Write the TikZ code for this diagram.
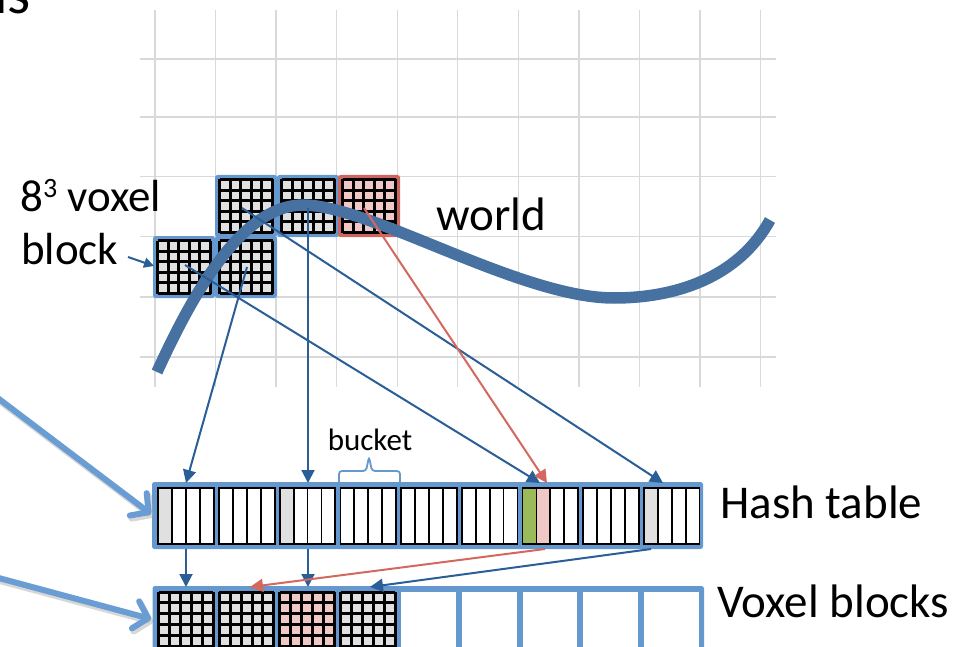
\documentclass[tikz,border=0pt]{standalone}
\usepackage{fontspec}
\setmainfont{Carlito}
\usetikzlibrary{arrows.meta}
\definecolor{gridgray}{RGB}{217,217,217}
\definecolor{frameblue}{RGB}{100,152,206}
\definecolor{framered}{RGB}{205,102,95}
\definecolor{curveblue}{RGB}{70,113,160}
\definecolor{arrowblue}{RGB}{42,94,150}
\definecolor{arrowred}{RGB}{212,104,94}
\definecolor{cellpink}{RGB}{240,200,198}
\definecolor{cellgray}{RGB}{224,224,224}
\definecolor{cellgreen}{RGB}{155,187,89}
\definecolor{bigblue}{RGB}{106,157,212}

% voxel grid: x, y, width, height, fill (5 columns, square cells)
\newcommand\vxgrid[5]{%
  \fill[#5] ({#1},{#2}) rectangle ({#1+#3},{#2+#4});
  \foreach \ii in {0,...,5} \draw[gridblack] ({#1+\ii*#3/5},{#2}) -- ({#1+\ii*#3/5},{#2+#4});
  \pgfmathtruncatemacro\nrows{floor(#4/(#3/5))}
  \foreach \jj in {0,...,\nrows} \draw[gridblack] ({#1},{#2+\jj*#3/5}) -- ({#1+#3},{#2+\jj*#3/5});
}
% world block: name, x, y, frame colour, cell colour
\newcommand\wblock[5]{%
  \fill[#4, rounded corners=2.5] ({#2},{#3}) rectangle ({#2+62},{#3+62});
  \vxgrid{#2+4.5}{#3+4.5}{53}{53}{#5}
  \coordinate (#1) at ({#2+31},{#3+31});
}
% hash cell: bucket, cell, fill
\newcommand\hcell[3]{%
  \draw[cellline, fill=#3] ({158.3+60.7*#1+#2*13.9},488) rectangle ++(13.9,56);
}

\begin{document}
\begin{tikzpicture}[x=1pt,y=-1pt,
  gridline/.style={gridgray, line width=1.3pt},
  gridblack/.style={black, line width=3pt},
  cellline/.style={black, line width=1.8pt},
  link/.style={arrowblue, line width=2pt, -{Triangle[length=13pt,width=13pt]}},
  redlink/.style={arrowred, line width=2pt, -{Triangle[length=13pt,width=13pt]}},
  smalllink/.style={arrowblue, line width=2pt, -{Triangle[length=10pt,width=10pt]}},
  bigarrow/.style={bigblue, line width=6pt, line cap=round, -{Straight Barb[length=13pt,width=28pt,round]}},
  bigshadow/.style={black!35, opacity=0.45, line width=6.5pt, line cap=round, -{Straight Barb[length=13pt,width=28pt,round]}},
  bigtext/.style={inner sep=0pt, font=\fontsize{47}{56}\selectfont},
]
\useasboundingbox (0,0) rectangle (963,647);
\clip (0,0) rectangle (963,647);

% title fragment
\node[anchor=base east, inner sep=0pt, font=\fontsize{59}{60}\selectfont] (title) at (31,14) {ns};

% background grid
\foreach \i in {0,...,10} \draw[gridline] ({155+60.55*\i},10) -- ({155+60.55*\i},387);
\foreach \yy in {59,117,176.5,236.5,297,357} \draw[gridline] (140,\yy) -- (776,\yy);

% world voxel blocks
\wblock{T1}{215}{175}{frameblue}{cellgray}
\wblock{T2}{277}{175}{frameblue}{cellgray}
\wblock{B1}{153}{236}{frameblue}{cellgray}
\wblock{B2}{215}{236}{frameblue}{cellgray}
\wblock{T3}{338}{175}{framered}{cellpink}

% surface curve
\draw[curveblue, line width=11.5pt] (157,372) .. controls (190,300) and (240,205) .. (303,205)
  .. controls (370,205) and (520,298) .. (614,298)
  .. controls (675,298) and (738,278) .. (770,220);

% labels
\node[anchor=base west, inner sep=0pt, font=\fontsize{45}{54}\selectfont] (lblvox) at (20,211.7)
  {8\raisebox{14.5pt}{\fontsize{28}{28}\selectfont 3} voxel};
\node[anchor=base west, inner sep=0pt, font=\fontsize{45}{54}\selectfont] (lblblock) at (21,264) {block};
\node[bigtext, anchor=base west] (lblworld) at (436,230) {world};
\node[bigtext, anchor=base west] (lblhash) at (720,518) {Hash table};
\node[bigtext, anchor=base west] (lblvb) at (717,617) {Voxel blocks};
\node[inner sep=0pt, anchor=base, font=\fontsize{31}{36}\selectfont] (lblbucket) at (370,450) {bucket};

% bucket brace
\draw[frameblue, line width=1.8pt, rounded corners=3] (339,483) |- (366,471) -- (369,457) -- (372,471) -| (400,483);

% hash table
\fill[frameblue, rounded corners=2.5] (152,482) rectangle (703,549);
\foreach \k in {0,...,8} {\foreach \c in {0,...,3} {\hcell{\k}{\c}{white}}}
\hcell{0}{0}{cellgray}
\hcell{2}{0}{cellgray}
\hcell{6}{0}{cellgreen}
\hcell{6}{1}{cellpink}
\hcell{8}{0}{cellgray}

% voxel block array
\fill[frameblue, rounded corners=2.5] (152.5,586) rectangle (704,680);
\vxgrid{158.5}{592}{54.7}{70}{cellgray}
\vxgrid{219.2}{592}{54.7}{70}{cellgray}
\vxgrid{279.9}{592}{54.7}{70}{cellpink}
\vxgrid{340.6}{592}{54.7}{70}{cellgray}
\foreach \k in {4,...,8} \fill[white] ({158.5+60.7*\k},592) rectangle ++(54.7,90);

% connector end points
\coordinate (sT1) at (242,208);
\coordinate (sT2) at (308,208);
\coordinate (sT3) at (364,208);
\coordinate (sB1) at (185,265);
\coordinate (sB2) at (247,267);
\coordinate (h1t) at (186,483);
\coordinate (h3t) at (308,483);
\coordinate (h7t) at (540,483);
\coordinate (h7p) at (547,483);
\coordinate (h9t) at (663,483);
\coordinate (h1b) at (186,549);
\coordinate (h3b) at (308,549);
\coordinate (h7b) at (545,549);
\coordinate (h9b) at (651,549);
\coordinate (v1) at (186,587);
\coordinate (v2) at (250,587);
\coordinate (v3) at (308,587);
\coordinate (v4) at (370,587);
\coordinate (blk) at (128,257);
\coordinate (B1w) at (154,266);
\coordinate (L1) at (-5,396);
\coordinate (L2) at (-5,577);
\coordinate (hashW) at (151,514);
\coordinate (voxW) at (151,619);

% world -> hash table
\draw[link] (sB2) -- (h1t);
\draw[link] (sT2) -- (h3t);
\draw[link] (sB1) -- (h7t);
\draw[link] (sT1) -- (h9t);
\draw[redlink] (sT3) -- (h7p);
% hash table -> voxel blocks
\draw[link] (h1b) -- (v1);
\draw[link] (h3b) -- (v3);
\draw[redlink] (h7b) -- (v2);
\draw[link] (h9b) -- (v4);
% label arrow
\draw[smalllink] (blk) -- (B1w);

% big arrows from the left
\draw[bigshadow, transform canvas={shift={(2pt,-3pt)}}] (L1) -- (hashW);
\draw[bigshadow, transform canvas={shift={(2pt,-3pt)}}] (L2) -- (voxW);
\draw[bigarrow] (L1) -- (hashW);
\draw[bigarrow] (L2) -- (voxW);
\end{tikzpicture}
\end{document}
